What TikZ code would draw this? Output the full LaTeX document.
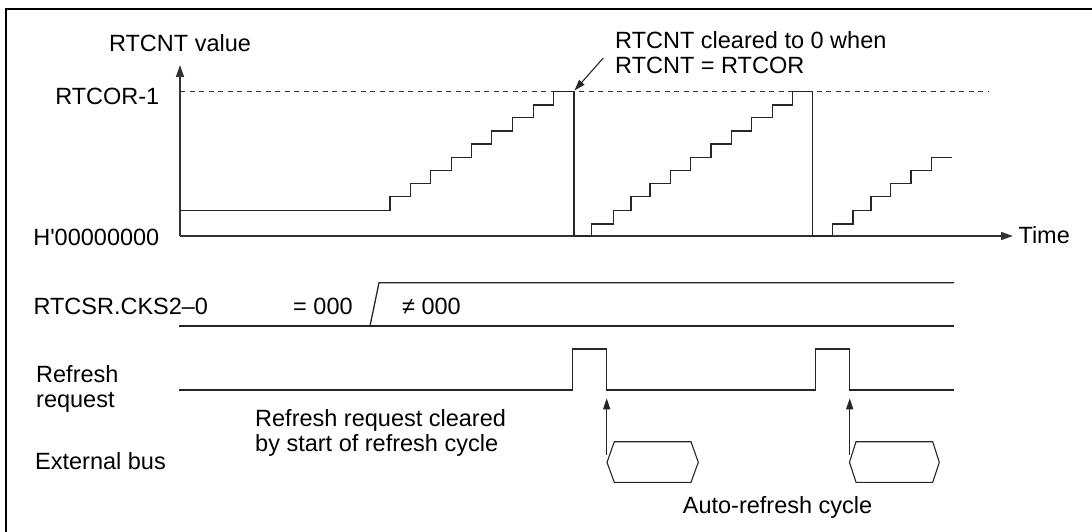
\documentclass[tikz,border=0pt]{standalone}
\usepackage{fontspec}
\setmainfont{Liberation Sans}
\usetikzlibrary{arrows.meta}
\begin{document}
\begin{tikzpicture}[x=1pt,y=-1pt,
  lbl/.style={inner sep=0pt, font=\fontsize{23.5}{25}\selectfont},
  axis/.style={line width=1.5pt, draw=black!80},
  sig/.style={line width=1.3pt, draw=black!85},
  thinline/.style={line width=1.1pt, draw=black!85},
  dashline/.style={line width=0.9pt, draw=black!80, dash pattern=on 5pt off 4.5pt},
  tip/.style={-{Triangle[length=12pt,width=8pt]}},
  smalltip/.style={-{Triangle[length=11pt,width=7pt]}}]
\useasboundingbox (0,0) rectangle (1092,532);
% frame (left and top only visible)
\draw[line width=2.2pt] (5.8,532) -- (5.8,9.2) -- (1092,9.2);

% axes
\coordinate (O) at (180,236);
\coordinate (ytop) at (180,65);
\coordinate (xend) at (1013,236);
\draw[axis,tip] (O) -- (ytop);
\draw[axis,tip] (O) -- (xend);
\draw[dashline] (180,91.7) -- (989,91.7);

% axis labels
\node[lbl, anchor=base] (val) at (180,51.7) {RTCNT value};
\node[lbl, anchor=base east] (cor) at (159.5,104.3) {RTCOR-1};
\node[lbl, anchor=base east] (zero) at (159.5,245) {H\textquotesingle 00000000};
\node[lbl, anchor=base west] (time) at (1018.3,243.3) {Time};

% staircases
\draw[sig] (180,210.7) -| (390,196.7) -| (410.7,183.3) -| (430.7,170.7)
  -| (451.3,157.3) -| (471.7,144) -| (491.7,131) -| (512.7,117.7)
  -| (533.3,105) -| (553.3,91.7) -- (574,91.7) -- (574,236);
\draw[sig] (574,236) -| (591.7,224) -| (613.3,210.7) -| (631,196.7)
  -| (650,183.3) -| (670.5,170.7) -| (690.7,157.3) -| (711,144)
  -| (731.5,131) -| (751.7,117.7) -| (772.3,105) -| (792.3,91.7)
  -- (812.3,91.7) -- (812.3,236);
\draw[sig] (812.3,236) -| (832.7,224) -| (853,210.7) -| (871,196.7)
  -| (890.7,183.3) -| (911,170.7) -| (931.7,157.3) -- (951.7,157.3);

% annotation
\node[lbl, anchor=base west] (ann1) at (615,48.3) {RTCNT cleared to 0 when};
\node[lbl, anchor=base west] (ann2) at (615,73.3) {RTCNT = RTCOR};
\coordinate (annfrom) at (603.3,58);
\coordinate (anntop) at (574.5,90.5);
\draw[thinline,smalltip] (annfrom) -- (anntop);

% RTCSR.CKS2-0
\node[lbl, anchor=base west] (cks) at (33.3,314.3) {RTCSR.CKS2–0};
\node[lbl, anchor=base west] (eq) at (293,314.3) {= 000};
\node[lbl, anchor=base west] (ne) at (402,314.3) {≠ 000};
\draw[sig] (179,326) -- (954,326);
\draw[sig] (370,326) -- (379,282.7) -- (954,282.7);

% refresh request
\node[lbl, anchor=base west] (rr1) at (36,382.3) {Refresh};
\node[lbl, anchor=base west] (rr2) at (36,407.3) {request};
\coordinate (f1) at (606.7,390);
\coordinate (f2) at (849.7,390);
\draw[sig] (179,390) -| (572.7,349) -| (f1) -| (815.3,349) -| (f2) -- (954,390);

\node[lbl, anchor=base west] (cl1) at (255,426) {Refresh request cleared};
\node[lbl, anchor=base west] (cl2) at (255,451.7) {by start of refresh cycle};

% external bus
\node[lbl, anchor=base west] (ext) at (35,469.3) {External bus};
\draw[thinline] (607,462.3) -- (614.3,441.7) -- (691,441.7) -- (698.3,462.3)
  -- (691,482.3) -- (614.3,482.3) -- cycle;
\draw[thinline] (849.5,462.3) -- (856,441.7) -- (932.7,441.7) -- (939.3,462.3)
  -- (932.7,482.3) -- (856,482.3) -- cycle;
\coordinate (h1) at (606.7,455);
\coordinate (h2) at (849.7,455);
\coordinate (t1) at (606.7,398.3);
\coordinate (t2) at (849.7,398.3);
\draw[thinline,smalltip] (h1) -- (t1);
\draw[thinline,smalltip] (h2) -- (t2);

\node[lbl, anchor=base west] (auto) at (682.7,513.3) {Auto-refresh cycle};
\end{tikzpicture}
\end{document}
